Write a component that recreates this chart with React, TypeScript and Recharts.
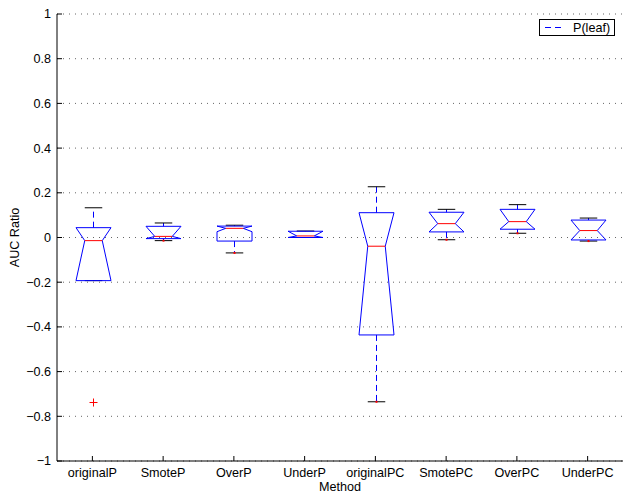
import React from 'react';
import { ComposedChart, Bar, XAxis, YAxis, CartesianGrid } from 'recharts';

const methods = ['originalP', 'SmoteP', 'OverP', 'UnderP', 'originalPC', 'SmotePC', 'OverPC', 'UnderPC'];
const upperWhisker = [0.133, 0.065, 0.055, 0.029, 0.227, 0.126, 0.147, 0.087];
const q3 = [0.044, 0.05, 0.051, 0.028, 0.111, 0.113, 0.126, 0.078];
const notchHigh = [0.044, 0.05, 0.051, 0.028, 0.111, 0.113, 0.126, 0.078];
const median = [-0.014, 0.005, 0.041, 0.007, -0.039, 0.062, 0.071, 0.031];
const notchLow = [-0.193, -0.005, 0.026, 0.0, -0.436, 0.025, 0.037, -0.011];
const q1 = [-0.193, -0.005, -0.016, 0.0, -0.436, 0.025, 0.037, -0.011];
const lowerWhisker = [-0.193, -0.014, -0.069, 0.0, -0.735, -0.01, 0.019, -0.016];
const outliers: number[][] = [[-0.735], [], [], [], [], [], [], []];

const yTicks = [-1, -0.8, -0.6, -0.4, -0.2, 0, 0.2, 0.4, 0.6, 0.8, 1];
const xTicks = [1, 2, 3, 4, 5, 6, 7, 8];

const data = methods.map((name, i) => ({
  name,
  hi: upperWhisker[i],
  q3: q3[i],
  nhi: notchHigh[i],
  med: median[i],
  nlo: notchLow[i],
  q1: q1[i],
  lo: lowerWhisker[i],
  out: outliers[i],
}));

const FONT = '"Liberation Sans", Arial, Helvetica, sans-serif';
const FS = 12.6;
const BLUE = '#0000ff';

const fmt = (v: number) => {
  if (Math.abs(v) < 1e-9) return '0';
  const s = String(+Math.abs(v).toFixed(1));
  return (v < 0 ? '\u2212' : '') + s;
};

// notched box drawn from the bar rectangle (q1..q3) given by the y scale
const NotchBox = (props: any) => {
  const { x, y, width, height, payload } = props;
  const top = Math.min(y, y + height);
  const h = Math.abs(height);
  const ppu = h / (payload.q3 - payload.q1);
  const py = (v: number) => top + (payload.q3 - v) * ppu;
  const cx = Math.round(x + width / 2) + 0.5;
  const w = width / 2;
  const nw = w / 2;
  const pts = [
    [cx - w, py(payload.q1)],
    [cx - w, py(payload.nlo)],
    [cx - nw, py(payload.med)],
    [cx - w, py(payload.nhi)],
    [cx - w, py(payload.q3)],
    [cx + w, py(payload.q3)],
    [cx + w, py(payload.nhi)],
    [cx + nw, py(payload.med)],
    [cx + w, py(payload.nlo)],
    [cx + w, py(payload.q1)],
  ]
    .map((p) => p.join(','))
    .join(' ');
  return (
    <g>
      {payload.hi > payload.q3 && (
        <line x1={cx} x2={cx} y1={py(payload.q3)} y2={py(payload.hi)} stroke={BLUE} strokeDasharray="6 4" />
      )}
      {payload.lo < payload.q1 && (
        <line x1={cx} x2={cx} y1={py(payload.q1)} y2={py(payload.lo)} stroke={BLUE} strokeDasharray="6 4" />
      )}
      <line x1={cx - nw} x2={cx + nw} y1={py(payload.hi)} y2={py(payload.hi)} stroke="#000" />
      <line x1={cx - nw} x2={cx + nw} y1={py(payload.lo)} y2={py(payload.lo)} stroke="#000" />
      <polygon points={pts} fill="none" stroke={BLUE} />
      <line x1={cx - nw} x2={cx + nw} y1={py(payload.med)} y2={py(payload.med)} stroke="#ff0000" />
      {payload.lo < payload.q1 && <rect x={cx - 1} y={py(payload.lo) - 1} width={2} height={2} fill="#ff0000" />}
      {payload.out.map((o: number, k: number) => {
        const oy = Math.round(py(o)) + 0.5;
        return (
          <g key={k} stroke="#ff0000">
            <line x1={cx - 4} x2={cx + 4} y1={oy} y2={oy} />
            <line x1={cx} x2={cx} y1={oy - 4} y2={oy + 4} />
          </g>
        );
      })}
    </g>
  );
};

export default function App() {
  return (
    <div style={{ position: 'absolute', left: 0, top: 0, width: 625, height: 493, background: '#fff', fontFamily: FONT }}>
      <ComposedChart
        width={625}
        height={493}
        data={data}
        margin={{ top: 14, right: 2, bottom: 0, left: 0 }}
        style={{ fontFamily: FONT }}
      >
        <CartesianGrid yAxisId="l" xAxisId="b" vertical={false} stroke="#666" strokeDasharray="1 5" />
        <XAxis
          xAxisId="b"
          dataKey="name"
          height={32}
          interval={0}
          tickSize={-5}
          tickMargin={12}
          axisLine={{ stroke: '#000' }}
          tickLine={{ stroke: '#000' }}
          tick={{ fill: '#000', fontSize: FS }}
          label={{ value: 'Method', position: 'insideBottom', offset: 2, fill: '#000', fontSize: FS }}
        />
        <XAxis
          xAxisId="t"
          orientation="top"
          type="number"
          domain={[0.5, 8.5]}
          ticks={xTicks}
          allowDataOverflow
          height={0}
          tickSize={-5}
          tick={false}
          axisLine={{ stroke: '#000' }}
          tickLine={{ stroke: '#000' }}
        />
        <YAxis
          yAxisId="l"
          type="number"
          domain={[-1, 1]}
          ticks={yTicks}
          interval={0}
          allowDataOverflow
          width={57}
          tickSize={-5}
          tickMargin={11}
          tickFormatter={fmt}
          axisLine={{ stroke: '#000' }}
          tickLine={{ stroke: '#000' }}
          tick={{ fill: '#000', fontSize: FS }}
          label={{
            value: 'AUC Ratio',
            angle: -90,
            position: 'insideLeft',
            offset: 15,
            fill: '#000',
            fontSize: FS,
            style: { textAnchor: 'middle' },
          }}
        />
        <YAxis
          yAxisId="r"
          orientation="right"
          type="number"
          domain={[-1, 1]}
          ticks={yTicks}
          interval={0}
          allowDataOverflow
          width={0}
          tickSize={-5}
          tick={false}
          axisLine={{ stroke: '#000' }}
          tickLine={{ stroke: '#000' }}
        />
        <Bar
          xAxisId="b"
          yAxisId="l"
          dataKey={(d: any) => [d.q1, d.q3]}
          barSize={35}
          shape={<NotchBox />}
          isAnimationActive={false}
        />
      </ComposedChart>
      <div
        style={{
          position: 'absolute',
          left: 539,
          top: 19,
          width: 76,
          height: 17,
          boxSizing: 'border-box',
          border: '1px solid #000',
          background: '#fff',
          display: 'flex',
          alignItems: 'center',
          fontSize: FS,
          color: '#000',
        }}
      >
        <svg width={30} height={15} style={{ display: 'block' }}>
          <line x1={5} x2={24} y1={7.5} y2={7.5} stroke={BLUE} strokeDasharray="6 4" />
        </svg>
        <span style={{ marginLeft: 3 }}>P(leaf)</span>
      </div>
    </div>
  );
}
